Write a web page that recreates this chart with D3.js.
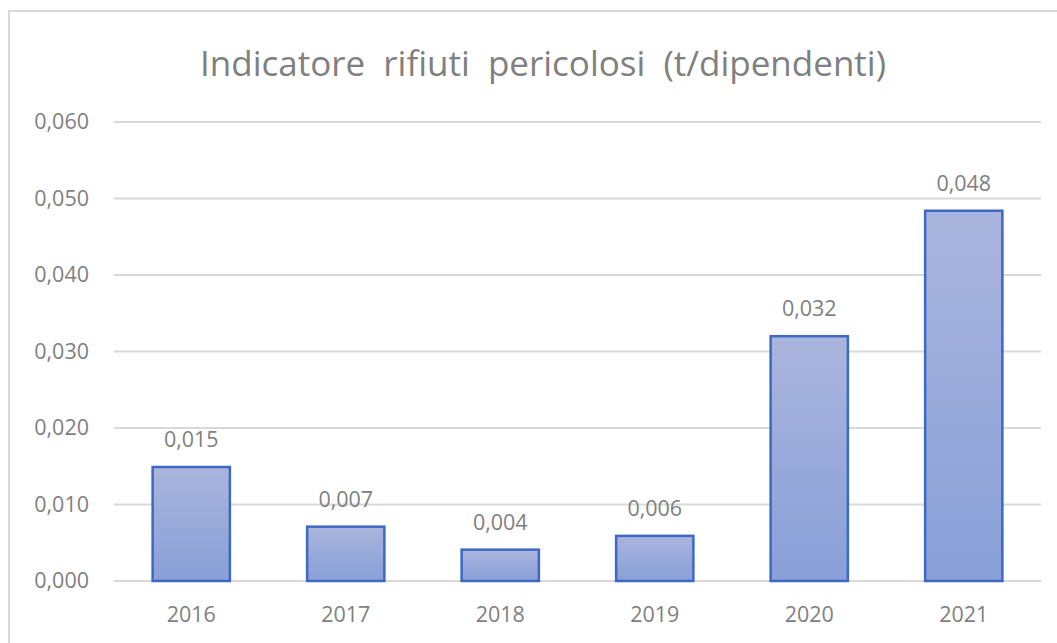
<!DOCTYPE html>
<html>
<head>
<meta charset="UTF-8">
<script src="https://cdn.jsdelivr.net/npm/d3@7"></script>
<style>
  body { margin: 0; background: #fff; font-family: "Open Sans", sans-serif; }
  .grid line { stroke: #d9d9d9; stroke-width: 2; }
  .axis text { fill: #7f7f7f; font-family: "Open Sans", sans-serif; }
</style>
</head>
<body>
<script>
  // chart data
  let years = ["2016", "2017", "2018", "2019", "2020", "2021"];
  let values = [0.0149, 0.0071, 0.0041, 0.0059, 0.0320, 0.0484];
  let yTicks = [0, 0.01, 0.02, 0.03, 0.04, 0.05, 0.06];
  let title = "Indicatore rifiuti pericolosi (t/dipendenti)";

  var W = 1057, H = 643;
  var margin = {top: 122, right: 16, bottom: 62, left: 114},
      width = W - margin.left - margin.right,
      height = H - margin.top - margin.bottom;

  var svg = d3.select("body").append("svg")
    .attr("width", W)
    .attr("height", H);

  // gradient for the bars
  var grad = svg.append("defs").append("linearGradient")
    .attr("id", "barGrad")
    .attr("x1", 0).attr("y1", 0).attr("x2", 0).attr("y2", 1);
  grad.append("stop").attr("offset", "0%").attr("stop-color", "#aab5dd");
  grad.append("stop").attr("offset", "100%").attr("stop-color", "#889fd8");

  // chart frame
  svg.append("rect")
    .attr("x", 9).attr("y", 11)
    .attr("width", W + 10).attr("height", H + 10)
    .attr("fill", "none")
    .attr("stroke", "#d9d9d9")
    .attr("stroke-width", 2);

  svg.append("text")
    .attr("x", 543)
    .attr("y", 76)
    .attr("text-anchor", "middle")
    .style("font-size", "35px")
    .style("word-spacing", "9px")
    .style("fill", "#808080")
    .text(title);

  var g = svg.append("g")
    .attr("transform", "translate(" + margin.left + "," + margin.top + ")");

  var x = d3.scaleBand().domain(years).range([0, width]).paddingInner(0.5).paddingOuter(0.25);
  var y = d3.scaleLinear().domain([0, 0.06]).range([height, 0]);
  var fmt = function(d) { return d3.format(".3f")(d).replace(".", ","); };

  // gridlines
  g.append("g").attr("class", "grid")
    .selectAll("line").data(yTicks).enter().append("line")
    .attr("x1", 0).attr("x2", width)
    .attr("y1", function(d) { return y(d); })
    .attr("y2", function(d) { return y(d); });

  // y axis labels
  var yAxis = d3.axisLeft(y).tickValues(yTicks).tickFormat(fmt).tickSize(0).tickPadding(25);
  g.append("g").attr("class", "axis")
    .call(yAxis)
    .call(function(a) { a.select(".domain").remove(); })
    .selectAll("text").style("font-size", "21.5px");

  // x axis labels
  var xAxis = d3.axisBottom(x).tickSize(0).tickPadding(26);
  g.append("g").attr("class", "axis")
    .attr("transform", "translate(0," + height + ")")
    .call(xAxis)
    .call(function(a) { a.select(".domain").remove(); })
    .selectAll("text").style("font-size", "21.5px");

  // value labels
  g.selectAll(".lbl").data(values).enter().append("text")
    .attr("class", "lbl")
    .attr("x", function(d, i) { return x(years[i]) + x.bandwidth() / 2; })
    .attr("y", function(d) { return y(d) - 20; })
    .attr("text-anchor", "middle")
    .style("font-size", "21.5px")
    .style("fill", "#7f7f7f")
    .text(fmt);

  // bars
  g.selectAll(".bar").data(values).enter().append("rect")
    .attr("class", "bar")
    .attr("x", function(d, i) { return x(years[i]); })
    .attr("y", function(d) { return y(d); })
    .attr("width", x.bandwidth())
    .attr("height", function(d) { return height - y(d); })
    .attr("fill", "url(#barGrad)")
    .attr("stroke", "#3d69c4")
    .attr("stroke-width", 2.5);
</script>
</body>
</html>
